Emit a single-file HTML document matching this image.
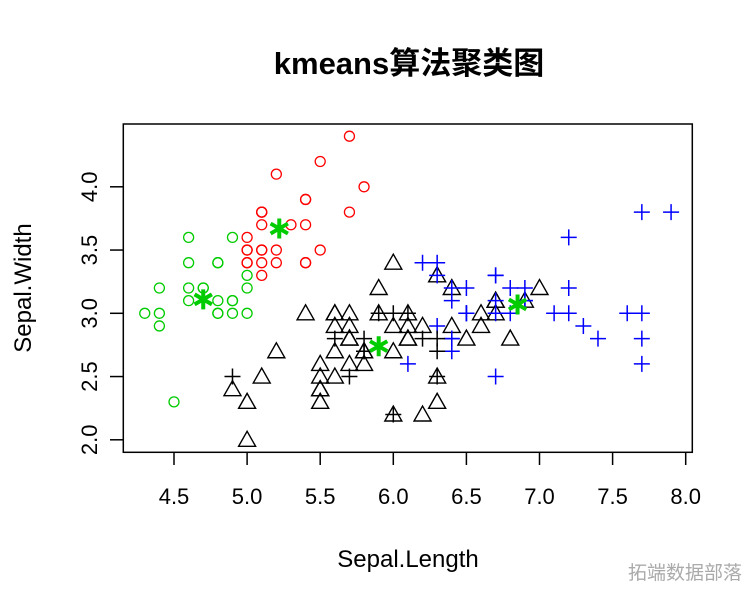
<!DOCTYPE html>
<html><head><meta charset="utf-8"><style>
body{margin:0;background:#fff;width:756px;height:606px;overflow:hidden}
</style></head><body>
<svg id="s" width="756" height="606" xmlns="http://www.w3.org/2000/svg" font-family="Liberation Sans, Noto Sans CJK SC, sans-serif">
<rect width="756" height="606" fill="#fff"/>
<text x="409" y="74" text-anchor="middle" font-size="31" font-weight="bold" font-family="Liberation Sans, Noto Sans CJK SC, sans-serif">kmeans算法聚类图</text>
<rect x="123.3" y="124" width="569" height="328.3" fill="none" stroke="#000" stroke-width="1.5"/>
<text x="408" y="567" text-anchor="middle" font-size="24">Sepal.Length</text>
<text transform="translate(31,288) rotate(-90)" text-anchor="middle" font-size="24">Sepal.Width</text>
<g id="g"></g>
<text x="742" y="579" text-anchor="end" font-size="19" fill="#aaa" font-family="Noto Sans CJK SC, sans-serif">拓端数据部落</text>
</svg>
<script>
var g=document.getElementById('g'),h='';
function px(v){return 174+(v-4.5)*146.2}
function py(v){return 313.3-(v-3)*126.5}
[4.5,5,5.5,6,6.5,7,7.5,8].forEach(function(v){var x=px(v);h+='<line x1="'+x+'" x2="'+x+'" y1="452.3" y2="465" stroke="#000" stroke-width="1.5"/><text x="'+x+'" y="504" text-anchor="middle" font-size="22">'+v.toFixed(1)+'</text>';});
[2,2.5,3,3.5,4].forEach(function(v){var y=py(v);h+='<line x1="110" x2="123.3" y1="'+y+'" y2="'+y+'" stroke="#000" stroke-width="1.5"/><text transform="translate(97,'+y+') rotate(-90)" text-anchor="middle" font-size="22">'+v.toFixed(1)+'</text>';});
var se="5.1 3.5,4.9 3.0,4.7 3.2,4.6 3.1,5.0 3.6,5.4 3.9,4.6 3.4,5.0 3.4,4.4 2.9,4.9 3.1,5.4 3.7,4.8 3.4,4.8 3.0,4.3 3.0,5.8 4.0,5.7 4.4,5.4 3.9,5.1 3.5,5.7 3.8,5.1 3.8,5.4 3.4,5.1 3.7,4.6 3.6,5.1 3.3,4.8 3.4,5.0 3.0,5.0 3.4,5.2 3.5,5.2 3.4,4.7 3.2,4.8 3.1,5.4 3.4,5.2 4.1,5.5 4.2,4.9 3.1,5.0 3.2,5.5 3.5,4.9 3.6,4.4 3.0,5.1 3.4,5.0 3.5,4.5 2.3,4.4 3.2,5.0 3.5,5.1 3.8,4.8 3.0,5.1 3.8,4.6 3.2,5.3 3.7,5.0 3.3";
var ve="7.0 3.2,6.4 3.2,6.9 3.1,5.5 2.3,6.5 2.8,5.7 2.8,6.3 3.3,4.9 2.4,6.6 2.9,5.2 2.7,5.0 2.0,5.9 3.0,6.0 2.2,6.1 2.9,5.6 2.9,6.7 3.1,5.6 3.0,5.8 2.7,6.2 2.2,5.6 2.5,5.9 3.2,6.1 2.8,6.3 2.5,6.1 2.8,6.4 2.9,6.6 3.0,6.8 2.8,6.7 3.0,6.0 2.9,5.7 2.6,5.5 2.4,5.5 2.4,5.8 2.7,6.0 2.7,5.4 3.0,6.0 3.4,6.7 3.1,6.3 2.3,5.6 3.0,5.5 2.5,5.5 2.6,6.1 3.0,5.8 2.6,5.0 2.3,5.6 2.7,5.7 3.0,5.7 2.9,6.2 2.9,5.1 2.5,5.7 2.8";
var vi="6.3 3.3,5.8 2.7,7.1 3.0,6.3 2.9,6.5 3.0,7.6 3.0,4.9 2.5,7.3 2.9,6.7 2.5,7.2 3.6,6.5 3.2,6.4 2.7,6.8 3.0,5.7 2.5,5.8 2.8,6.4 3.2,6.5 3.0,7.7 3.8,7.7 2.6,6.0 2.2,6.9 3.2,5.6 2.8,7.7 2.8,6.3 2.7,6.7 3.3,7.2 3.2,6.2 2.8,6.1 3.0,6.4 2.8,7.2 3.0,7.4 2.8,7.9 3.8,6.4 2.8,6.3 2.8,6.1 2.6,7.7 3.0,6.3 3.4,6.4 3.1,6.0 3.0,6.9 3.1,6.7 3.1,6.9 3.1,5.8 2.7,6.8 3.2,6.7 3.3,6.7 3.0,6.3 2.5,6.5 3.0,6.2 3.4,5.9 3.0";
function P(s){return s.split(',').map(function(p){return p.split(' ').map(Number)})}
P(se).forEach(function(p){var red=(p[0]>=5.1)||(p[0]>=5.0&&p[1]>=3.4);h+='<circle cx="'+px(p[0])+'" cy="'+py(p[1])+'" r="5" fill="none" stroke="'+(red?'#f00':'#0c0')+'" stroke-width="1.3"/>';});
P(ve).forEach(function(p){var x=px(p[0]),y=py(p[1]);h+='<polygon points="'+(x-8.5)+','+(y+6.5)+' '+(x+8.5)+','+(y+6.5)+' '+x+','+(y-8.5)+'" fill="none" stroke="#000" stroke-width="1.4"/>';});
P(vi).forEach(function(p){var sp=(p[0]==6.1&&p[1]==2.6);var blk=!sp&&((p[0]<6.2)||(p[0]<6.4&&p[1]<2.9));var x=px(p[0]),y=py(p[1]),c=blk?'#000':'#00f';h+='<path d="M'+(x-8)+' '+y+'H'+(x+8)+'M'+x+' '+(y-8)+'V'+(y+8)+'" stroke="'+c+'" stroke-width="1.5"/>';});
[[5.22,3.67],[4.70,3.11],[5.90,2.74],[6.85,3.07]].forEach(function(p){var x=px(p[0]),y=py(p[1]),d='';for(var i=0;i<3;i++){var a=Math.PI/3*i+Math.PI/2,dx=10*Math.cos(a),dy=10*Math.sin(a);d+='M'+(x-dx)+' '+(y-dy)+'L'+(x+dx)+' '+(y+dy);}h+='<path d="'+d+'" stroke="#0c0" stroke-width="4"/>';});
g.innerHTML=h;
</script>
</body></html>
